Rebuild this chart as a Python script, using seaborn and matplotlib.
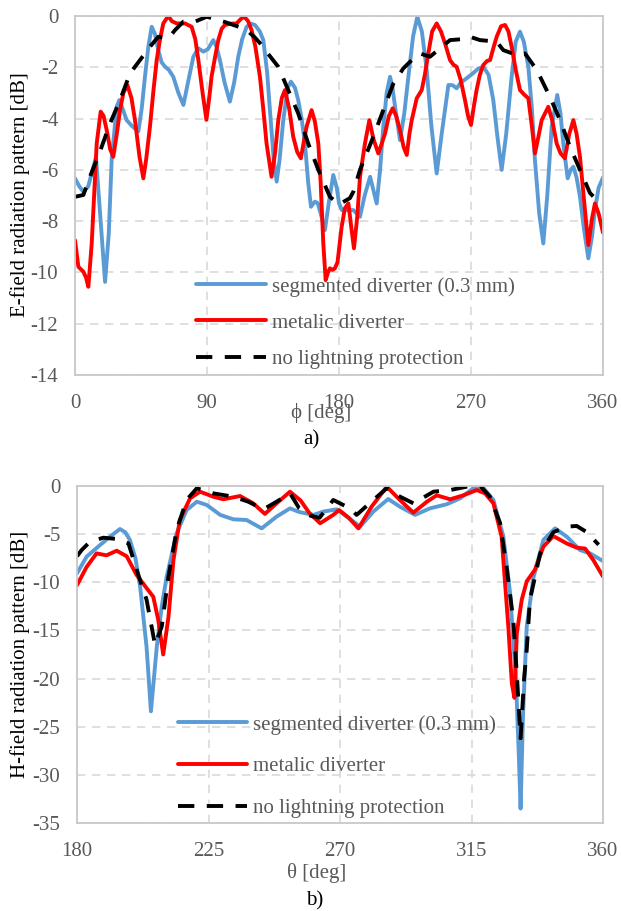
import matplotlib
matplotlib.use("Agg")
import matplotlib.pyplot as plt
import seaborn as sns
import pandas as pd

# ---------------- data: a) E-field ----------------
E_SEG_PHI = [0, 3, 5.7, 9, 14.3, 17.5, 20.5, 23, 25, 28.4, 30.2, 33, 35.2, 39, 43.2, 45.5, 47.7, 50, 52.3,
             54.5, 56.8, 59, 61.4, 64, 67, 70.5, 73.9, 77, 80.7, 84, 87.5, 90.5, 94.3, 96.5, 98.8, 102,
             105.6, 108.5, 111.3, 114, 117, 120, 122.7, 126, 128.4, 131, 132.9, 135.5, 137.5, 139.5, 142,
             145, 147.2, 150, 152.2, 154.5, 156.8, 159, 160.9, 162, 163.6, 165.5, 167.5, 170.4, 173, 176.1,
             178.5, 180, 182, 185.2, 189.8, 192, 194.3, 197.5, 201.2, 203.5, 205.7, 208, 210.2, 212.5,
             214.8, 216.5, 218.2, 221.6, 224.5, 227.3, 230.5, 233.4, 236.5, 239.8, 243, 246.6, 250, 254.6,
             257.5, 260.2, 263, 267, 271, 275, 278.5, 282, 285.2, 288, 290.9, 294, 297.7, 300.5, 303.4,
             306, 309.1, 311.5, 313.6, 316.5, 319.3, 322, 325, 328.8, 331, 332.9, 335.9, 338, 339.8, 342,
             344.3, 347, 350, 352.5, 354.5, 357, 360]
E_SEG_DB = [-6.33, -6.65, -6.85, -6.65, -5.5, -8.0, -10.37, -8.5, -5.6, -3.54, -3.28, -3.7, -4.06, -4.3,
            -4.5, -3.6, -2.37, -1.2, -0.42, -0.7, -1.33, -1.8, -1.98, -2.1, -2.37, -3.0, -3.47, -2.6, -1.59,
            -1.26, -1.39, -1.3, -0.94, -1.2, -1.72, -2.6, -3.34, -2.6, -1.59, -0.9, -0.42, -0.3, -0.35,
            -0.6, -0.94, -2.2, -3.67, -5.6, -6.46, -5.6, -4.06, -2.8, -2.56, -2.8, -3.28, -4.0, -4.97,
            -6.5, -7.44, -7.35, -7.24, -7.3, -7.7, -8.35, -7.3, -6.2, -6.7, -7.3, -7.57, -7.57, -7.57,
            -7.7, -7.83, -7.0, -6.27, -6.8, -7.31, -6.0, -4.32, -3.0, -2.37, -2.8, -3.54, -4.84, -3.8,
            -2.37, -0.8, -0.03, -0.6, -2.1, -4.3, -6.14, -4.6, -2.69, -2.7, -2.82, -2.6, -2.43, -2.25,
            -2.05, -1.98, -2.3, -3.28, -4.7, -6.0, -4.6, -2.37, -1.0, -0.61, -1.0, -1.98, -3.6, -5.62,
            -7.7, -8.87, -7.0, -4.32, -3.08, -3.8, -4.97, -6.33, -6.0, -5.88, -6.3, -7.05, -8.3, -9.45,
            -8.6, -7.57, -6.7, -6.3]

E_MET_PHI = [0, 2.3, 5.7, 7.5, 9.1, 11.4, 13, 14.8, 17.5, 19.5, 21.6, 24, 26.1, 28.5, 30.7, 33, 35.7, 38.5,
             40.9, 44, 46.6, 48.5, 51.1, 53.5, 55.7, 58, 60.2, 63.6, 66, 69.3, 75, 79.5, 82, 84.1, 87, 89.6,
             91.5, 93.1, 95.5, 97.7, 100, 102.2, 106, 110.2, 113, 115.4, 118, 120.4, 123, 126.1, 128.5,
             130.6, 134, 136.5, 138.6, 141, 143.1, 146, 148.8, 151.5, 154, 156, 157.9, 161.3, 163.5, 165.9,
             167.5, 169.3, 170.9, 172.5, 173.8, 175.5, 177.2, 179, 181.8, 184, 186.4, 188.5, 190.2, 192.5,
             194.3, 197.7, 200.7, 203.5, 206.8, 209, 211.4, 214, 216.6, 219, 221.6, 224, 226.2, 228, 229.6,
             233, 236.4, 238.5, 240.9, 243.5, 246.6, 249.5, 252.3, 255.7, 258, 260.2, 263, 265.9, 268, 270,
             272, 273.8, 276, 278.4, 281, 283, 285.5, 287.5, 290.5, 293.2, 295.5, 297.7, 300.5, 303.4, 306,
             309.1, 311.5, 313.6, 316, 318.2, 322.7, 325.5, 328.4, 331, 334, 337, 339.8, 342, 344.3, 347.7,
             350, 352.5, 354.5, 357, 360]
E_MET_DB = [-8.74, -9.78, -9.97, -10.2, -10.56, -8.87, -7.0, -4.97, -3.73, -3.9, -4.45, -5.2, -5.49, -4.6,
            -3.67, -3.0, -2.69, -3.2, -4.06, -5.5, -6.33, -5.6, -4.32, -2.9, -1.72, -0.9, -0.29, 0.0, -0.2,
            -0.29, -0.29, -0.42, -0.9, -1.72, -3.0, -4.05, -3.2, -2.37, -1.6, -0.94, -0.5, -0.35, -0.3,
            -0.29, -0.12, -0.03, -0.2, -0.55, -1.2, -2.37, -3.7, -4.97, -6.27, -5.3, -4.06, -3.2, -2.89,
            -3.6, -4.71, -5.3, -5.55, -4.9, -4.32, -3.67, -4.1, -4.97, -6.5, -8.87, -10.3, -10.0, -9.84,
            -9.9, -9.84, -9.6, -8.22, -7.5, -7.31, -8.3, -9.06, -7.8, -6.27, -4.97, -4.06, -4.8, -5.36,
            -5.0, -4.58, -3.9, -3.6, -3.9, -4.45, -5.1, -5.42, -4.6, -4.06, -3.21, -2.89, -2.3, -1.46,
            -0.6, -0.29, -0.6, -1.07, -1.72, -1.9, -1.98, -2.5, -3.28, -3.9, -4.25, -3.5, -2.89, -2.3,
            -1.91, -1.75, -1.72, -1.2, -0.81, -0.4, -0.35, -0.6, -1.2, -2.1, -2.89, -3.05, -3.21, -4.3,
            -5.36, -4.7, -4.06, -3.54, -4.1, -4.97, -5.35, -5.55, -4.6, -4.06, -4.6, -5.49, -7.57, -8.93,
            -7.9, -7.31, -7.7, -8.45]

E_NONE_PHI = [0, 5.7, 10.2, 17, 23.9, 30.7, 37.5, 44.3, 51.1, 56.8, 63.6, 68.2, 73.9, 81.8, 89.8, 97.7,
              103, 108, 113, 118, 122, 126, 132, 138.6, 145.4, 152.2, 159, 165.9, 173.8, 180, 187.5, 189.8,
              194.3, 203.4, 210.2, 217.1, 223.9, 229.6, 235.2, 242, 248.9, 255.7, 264.8, 269.3, 276.1,
              287.5, 292, 301.1, 306.8, 314.8, 323.8, 330.7, 337.5, 344.3, 351.1, 355.7, 360]
E_NONE_DB = [-7.05, -6.98, -6.27, -5.29, -4.19, -3.28, -2.24, -1.72, -1.2, -0.81, -0.87, -0.55, -0.22,
             -0.22, -0.03, -0.15, -0.25, -0.35, -0.45, -0.6, -0.8, -1.05, -1.5, -1.98, -2.89, -3.8, -4.97,
             -6.0, -7.05, -7.35, -7.1, -6.85, -6.0, -4.71, -3.67, -2.63, -2.04, -1.72, -1.46, -1.59, -1.26,
             -0.94, -0.9, -0.81, -0.94, -1.0, -1.33, -1.52, -1.46, -2.1, -3.15, -4.06, -5.1, -6.0, -6.9,
             -7.18, -7.1]

# ---------------- data: b) H-field ----------------
H_SEG_TH = [180, 183.3, 187.9, 191.3, 194.7, 196.5, 198.1, 200, 201.6, 203.8, 205.3, 207.3, 209, 210.7,
            214.1, 217.5, 221, 224.4, 229, 233.5, 238, 243.2, 248.3, 252.9, 256, 261, 264.3, 268.9, 272.3,
            276.9, 281.4, 286.5, 290.5, 295.7, 300.8, 306.5, 311.1, 315.6, 319, 322.5, 325.9, 328.2, 330.2,
            331.2, 331.8, 332.6, 333.9, 336.2, 339.6, 343.6, 347.6, 352.1, 355.6, 360]
H_SEG_DB = [-9.07, -7.34, -6.13, -5.26, -4.47, -4.8, -5.6, -7.5, -10.45, -16.7, -23.4, -16.7, -12.5, -9.4,
            -4.9, -2.5, -1.63, -1.97, -3.0, -3.46, -3.53, -4.4, -3.18, -2.32, -2.7, -3.0, -2.66, -2.42,
            -3.18, -4.22, -2.66, -1.35, -2.15, -3.0, -2.32, -1.9, -1.28, -0.24, -0.17, -1.45, -5.26, -11.1,
            -20.0, -28.0, -33.5, -24.0, -14.6, -9.5, -5.6, -4.4, -5.26, -6.65, -7.0, -7.8]

H_MET_TH = [180, 183.3, 186.7, 190.1, 193.6, 197, 200.4, 203.8, 206.1, 207.8, 209.5, 211.3, 213, 215.2,
            218.7, 222.1, 226.6, 230.1, 235.8, 240.3, 244.3, 248.3, 252.9, 256.5, 259.5, 263.2, 267.7,
            269.7, 273, 276.3, 280.8, 286, 290.5, 295.1, 299.7, 303.1, 307.7, 312.2, 316.8, 319.6, 322.5,
            325.3, 327.6, 328.8, 329.7, 330.5, 332.2, 333.9, 336.7, 339.6, 343, 347.6, 351, 353.9, 356.7, 360]
H_MET_DB = [-10.3, -8.4, -7.0, -7.2, -6.72, -7.3, -9.24, -10.6, -11.5, -13.9, -17.5, -13.6, -7.7, -3.5,
            -1.28, -0.59, -1.11, -1.38, -1.04, -1.8, -2.9, -1.8, -0.59, -1.5, -2.8, -3.87, -3.0, -2.5, -3.3,
            -4.4, -2.15, -0.07, -1.45, -2.77, -1.64, -0.97, -1.38, -0.97, -0.42, -0.76, -1.8, -5.26, -14.6,
            -20.5, -22.0, -15.3, -11.8, -9.9, -8.7, -6.3, -5.2, -5.97, -6.4, -6.5, -7.7, -9.4]

H_NONE_TH = [180, 181.6, 184.4, 189, 193.6, 197.6, 200.4, 203.8, 206.7, 209, 211.3, 214.1, 217.5, 221,
             226.6, 233.5, 238.6, 243.8, 248.3, 252.9, 256, 260, 263, 267.7, 273.4, 275.7, 281.4, 286,
             290.5, 295.1, 302, 307.7, 313.4, 318, 321.3, 324.8, 327, 329.3, 330.6, 331.8, 333, 333.9, 335,
             338.5, 343, 347.6, 351, 354.5, 358.5]
H_NONE_DB = [-7.3, -6.65, -5.8, -5.37, -5.5, -5.95, -8.7, -11.8, -16.5, -14.6, -9.4, -4.57, -1.45, -0.24,
             -0.76, -1.11, -1.63, -2.42, -1.63, -0.76, -2.3, -3.1, -3.3, -1.45, -2.32, -3.0, -1.45, -0.24,
             -1.1, -1.8, -0.59, -0.42, -0.07, 0.0, -1.1, -3.87, -8.4, -13.9, -20.0, -26.2, -20.0, -17.0,
             -11.8, -7.0, -4.8, -4.22, -4.15, -4.8, -6.1]

LABELS = ["segmented diverter (0.3 mm)", "metalic diverter", "no lightning protection"]
E_XTICKS = [0, 90, 180, 270, 360]
E_YTICKS = [0, -2, -4, -6, -8, -10, -12, -14]
H_XTICKS = [180, 225, 270, 315, 360]
H_YTICKS = [0, -5, -10, -15, -20, -25, -30, -35]

# ---------------- style ----------------
sns.set_theme(style="white")
plt.rcParams["font.family"] = ["Liberation Serif", "DejaVu Serif"]
plt.rcParams["axes.unicode_minus"] = False

BLUE = "#5B9BD5"
RED = "#FF0000"
BLACK = "#000000"
GRAY_TXT = "#595959"
GRID = "#D9D9D9"
SPINE = "#C8C8C8"
FS = 15
LW = 2.8

fig = plt.figure(figsize=(6.21, 9.11), dpi=100)
W, H = 621.0, 911.0
ax1 = fig.add_axes([75 / W, 1 - 375 / H, 528 / W, 359 / H])
ax2 = fig.add_axes([77 / W, 1 - 823 / H, 526 / W, 337 / H])


def draw(ax, xs, ys, names):
    styles = [dict(color=BLUE, linestyle="-"),
              dict(color=RED, linestyle="-"),
              dict(color=BLACK, linestyle=(0, (4.2, 3.2)))]
    for x, y, name, st in zip(xs, ys, names, styles):
        df = pd.DataFrame({"x": x, "y": y})
        sns.lineplot(data=df, x="x", y="y", ax=ax, sort=False, estimator=None,
                     label=name, linewidth=LW, solid_capstyle="round",
                     solid_joinstyle="round", dash_capstyle="butt", **st)


def style_axes(ax, xlim, ylim, xticks, yticks):
    ax.set_xlim(*xlim)
    ax.set_ylim(*ylim)
    ax.set_xticks(xticks)
    ax.set_yticks(yticks)
    ax.set_xlabel("")
    ax.set_ylabel("")
    ax.grid(True, color=GRID, linestyle=(0, (5, 4)), linewidth=1.2)
    ax.set_axisbelow(True)
    for s in ax.spines.values():
        s.set_visible(True)
        s.set_color(SPINE)
        s.set_linewidth(1.3)
    ax.tick_params(axis="both", length=0, labelsize=FS, labelcolor=GRAY_TXT)
    ax.tick_params(axis="x", pad=14)
    ax.tick_params(axis="y", pad=12)


draw(ax1, [E_SEG_PHI, E_MET_PHI, E_NONE_PHI], [E_SEG_DB, E_MET_DB, E_NONE_DB], LABELS)
style_axes(ax1, (0, 360), (-14, 0), E_XTICKS, E_YTICKS)
draw(ax2, [H_SEG_TH, H_MET_TH, H_NONE_TH], [H_SEG_DB, H_MET_DB, H_NONE_DB], LABELS)
style_axes(ax2, (180, 360), (-35, 0), H_XTICKS, H_YTICKS)

leg1 = ax1.legend(loc="upper left", bbox_to_anchor=(196 / W, 1 - 277 / H),
                  bbox_transform=fig.transFigure, frameon=False, fontsize=FS,
                  handlelength=3.35, handletextpad=0.3, labelspacing=0.79,
                  borderpad=0, borderaxespad=0)
leg2 = ax2.legend(loc="upper left", bbox_to_anchor=(178 / W, 1 - 715 / H),
                  bbox_transform=fig.transFigure, frameon=False, fontsize=FS,
                  handlelength=3.3, handletextpad=0.3, labelspacing=1.06,
                  borderpad=0, borderaxespad=0)
for leg in (leg1, leg2):
    for t in leg.get_texts():
        t.set_color(GRAY_TXT)

fig.text(20 / W, 1 - 195 / H, "E-field radiation pattern [dB]", rotation=90,
         ha="center", va="center", fontsize=FS, color="black")
fig.text(20 / W, 1 - 654 / H, "H-field radiation pattern [dB]", rotation=90,
         ha="center", va="center", fontsize=FS, color="black")
fig.text(321 / W, 1 - 413 / H, "ϕ [deg]", ha="center", va="center", fontsize=FS, color=GRAY_TXT)
fig.text(317 / W, 1 - 873 / H, "θ [deg]", ha="center", va="center", fontsize=FS, color=GRAY_TXT)
fig.text(311 / W, 1 - 440 / H, "a)", ha="center", va="center", fontsize=FS, color="black")
fig.text(315 / W, 1 - 901 / H, "b)", ha="center", va="center", fontsize=FS, color="black")

fig.savefig("out.png", dpi=100)
